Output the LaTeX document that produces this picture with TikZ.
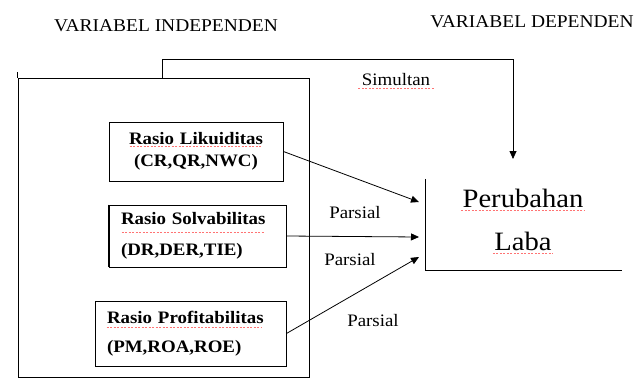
\documentclass[tikz,border=0pt]{standalone}
\usepackage{fontspec}
\setmainfont{Liberation Serif}[FakeStretch=1.08]
\usetikzlibrary{arrows.meta,calc}
\tikzset{
  conn/.style={line width=0.8pt, -{Triangle[length=8pt,width=7pt]}},
  frame/.style={draw, line width=0.8pt},
  varbox/.style={draw, line width=0.9pt, inner xsep=12pt, inner ysep=0pt, align=left,
    font=\fontsize{17.5}{22}\selectfont\bfseries},
  head/.style={font=\fontsize{18}{20}\selectfont, anchor=base},
  lbl/.style={font=\fontsize{17.5}{20}\selectfont, anchor=base},
  big/.style={font=\fontsize{26.5}{30}\selectfont, anchor=base},
  squig/.style={draw=red!55, line width=0.6pt, dash pattern=on 2pt off 1.5pt}
}
\begin{document}
\begin{tikzpicture}[x=1pt,y=-1pt]
\useasboundingbox (0,0) rectangle (642,378);

% headers
\node[head] (hi) at (166,31) {VARIABEL INDEPENDEN};
\node[head] (hd) at (532,27) {VARIABEL DEPENDEN};

% big independent frame
\node[frame, minimum width=291pt, minimum height=299pt, inner sep=0pt] (indep) at (163.5,227.5) {};
\draw[line width=0.8pt] (indep.north west) -- ++(0,-6);

% boxes
\node[varbox, minimum width=174pt, minimum height=59pt, text width=150pt, align=center] (b1) at (196,151.5)
  {Rasio Likuiditas\\(CR,QR,NWC)};
\node[varbox, minimum width=177pt, minimum height=62pt, text width=153pt] (b2) at (197.5,236)
  {Rasio Solvabilitas\\[9pt](DR,DER,TIE)};
\node[varbox, minimum width=191pt, minimum height=65pt, text width=167pt] (b3) at (190.5,333.5)
  {Rasio Profitabilitas\\[7pt](PM,ROA,ROE)};
\draw[line width=1.8pt] (b2.north west) -- (b2.south west);

% dependent
\node[minimum width=196pt, minimum height=91pt, inner sep=0pt] (pl) at (524,224.5) {};
\draw[line width=0.8pt] (pl.north west) -- (pl.south west) -- (pl.south east);
\node[big] (per) at (523,207) {Perubahan};
\node[big] (lab) at (523,250) {Laba};

% arrow end points
\coordinate (e0) at (513,159);
\coordinate (e1) at (419,202);
\coordinate (e2) at (419,237);
\coordinate (e3) at (419,257);
\coordinate (s0) at (162,78);
\coordinate (s1) at (513,59);

\draw[conn] (s0) |- (s1) -- (e0);
\draw[conn] (b1.east) -- (e1);
\draw[conn] (b2.east) -- (e2);
\draw[conn] (b3.east) -- (e3);

% labels
\node[lbl] (sim) at (396,85) {Simultan};
\node[lbl] (p1) at (355,218) {Parsial};
\node[lbl] (p2) at (350,265) {Parsial};
\node[lbl] (p3) at (373,326) {Parsial};

% spell-check underlines
\draw[squig] ($(sim.base west)+(0,3.5)$) -- ($(sim.base east)+(0,3.5)$);
\draw[squig] ($(per.base west)+(2,3.5)$) -- ($(per.base east)+(-2,3.5)$);
\draw[squig] ($(lab.base west)+(2,3.5)$) -- ($(lab.base east)+(-2,3.5)$);
\draw[squig] ($(b1.north west)+(21,25)$) -- ($(b1.north west)+(153,25)$);
\draw[squig] ($(b2.north west)+(13,28)$) -- ($(b2.north west)+(156,28)$);
\draw[squig] ($(b3.north west)+(12,27)$) -- ($(b3.north west)+(167,27)$);
\end{tikzpicture}
\end{document}
